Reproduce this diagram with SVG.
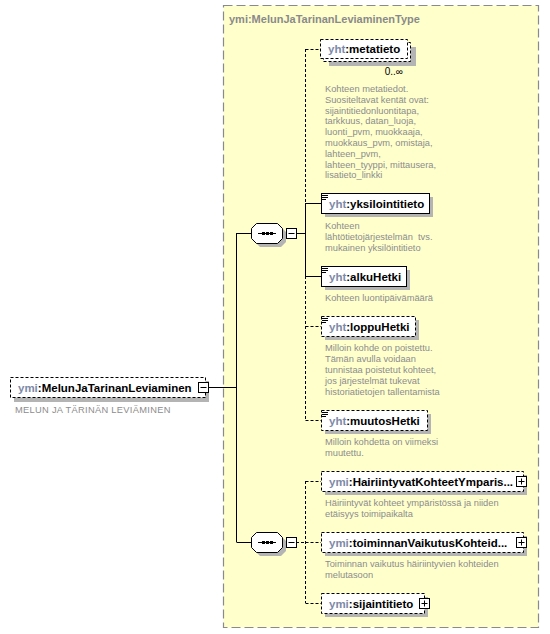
<svg xmlns="http://www.w3.org/2000/svg" width="550" height="634" viewBox="0 0 550 634">
<style>
.bg{fill:#ffffff}
.type{fill:#ffffcc;stroke:#8a8a8a;stroke-width:1.2;stroke-dasharray:9 4}
.sh{fill:#b4b4b4}
.box{fill:#fff;stroke:#000;stroke-width:1}
.opt{fill:#fff;stroke:#000;stroke-width:1;stroke-dasharray:3 2}
.ln{fill:none;stroke:#000;stroke-width:1}
.dl{fill:none;stroke:#000;stroke-width:1;stroke-dasharray:3 2}
.nm{font-family:"Liberation Sans",Arial,sans-serif;font-weight:bold;font-size:11.5px;fill:#000}
.px{fill:#7d8aa8}
.ds{font-family:"Liberation Sans",Arial,sans-serif;font-size:9.3px;fill:#8c8c8c}
.tt{font-family:"Liberation Sans",Arial,sans-serif;font-weight:bold;font-size:11px;fill:#8a8a8a}
.oc{font-family:"Liberation Sans",Arial,sans-serif;font-size:10px;fill:#000}
.ic{stroke:#000;stroke-width:1}
</style>
<defs>
<path id="oct" d="M256,0 H277 L282,5 V15 L277,20 H256 L251,15 V5 Z"/>
</defs>
<rect class="bg" x="0" y="0" width="550" height="634"/>
<rect class="type" x="223.5" y="5.5" width="315" height="622"/>
<text class="tt" x="229" y="23">ymi:MelunJaTarinanLeviaminenType</text>

<g id="connectors">
<path class="ln" d="M208,387.5 H236.5 M236.5,233 V542 M236.5,233.5 H251 M236.5,542.5 H251"/>
<path class="ln" d="M282,233.5 H286 M296,233.5 H305.5 M305.5,203 V276 M305.5,203.5 H321 M305.5,276.5 H321"/>
<path class="dl" d="M305.5,49 V203 M305.5,276 V420 M305.5,49.5 H320 M305.5,326.5 H321 M305.5,420.5 H321"/>
<path class="ln" d="M282,542.5 H286"/>
<path class="dl" d="M296,542.5 H305.5 M305.5,481 V603 M305.5,481.5 H321 M305.5,542.5 H321 M305.5,603.5 H321"/>
</g>

<g id="root">
<rect class="sh" x="14" y="381" width="195" height="21"/>
<rect class="opt" x="10.5" y="377.5" width="195" height="20"/>
<text class="nm" x="18" y="392"><tspan class="px">ymi</tspan>:MelunJaTarinanLeviaminen</text>
<rect class="box" x="198.5" y="382.5" width="10" height="10"/>
<path class="ic" d="M200.5,387.5 H206.5"/>
<text class="ds" x="15" y="413" letter-spacing="0.3">MELUN JA TÄRINÄN LEVIÄMINEN</text>
</g>

<g id="seq1">
<use href="#oct" x="4" y="227" class="sh"/>
<use href="#oct" x="0.5" y="223.5" fill="#fff" stroke="#000"/>
<path class="ln" d="M258,233.5 H276"/>
<rect x="262" y="232" width="3" height="3" fill="#000"/>
<rect x="266" y="232" width="3" height="3" fill="#000"/>
<rect x="270" y="232" width="3" height="3" fill="#000"/>
<rect class="box" x="286.5" y="228.5" width="10" height="10"/>
<path class="ic" d="M288.5,233.5 H294.5"/>
</g>

<g id="seq2">
<use href="#oct" x="4" y="536" class="sh"/>
<use href="#oct" x="0.5" y="532.5" fill="#fff" stroke="#000"/>
<path class="ln" d="M258,542.5 H276"/>
<rect x="262" y="541" width="3" height="3" fill="#000"/>
<rect x="266" y="541" width="3" height="3" fill="#000"/>
<rect x="270" y="541" width="3" height="3" fill="#000"/>
<rect class="box" x="286.5" y="537.5" width="10" height="10"/>
<path class="ic" d="M288.5,542.5 H294.5"/>
</g>

<g id="metatieto">
<rect class="sh" x="329" y="47" width="87" height="19"/>
<rect class="opt" x="323.5" y="42.5" width="87" height="19"/>
<rect class="opt" x="320.5" y="39.5" width="87" height="19"/>
<text class="nm" x="328" y="53"><tspan class="px">yht</tspan>:metatieto</text>
<text class="oc" x="403" y="75" text-anchor="end">0..∞</text>
<text class="ds" x="325"><tspan x="325" y="92">Kohteen metatiedot.</tspan><tspan x="325" y="102.8">Suositeltavat kentät ovat:</tspan><tspan x="325" y="113.6">sijaintitiedonluontitapa,</tspan><tspan x="325" y="124.4">tarkkuus, datan_luoja,</tspan><tspan x="325" y="135.2">luonti_pvm, muokkaaja,</tspan><tspan x="325" y="146">muokkaus_pvm, omistaja,</tspan><tspan x="325" y="156.8">lahteen_pvm,</tspan><tspan x="325" y="167.6">lahteen_tyyppi, mittausera,</tspan><tspan x="325" y="178.4">lisatieto_linkki</tspan></text>
</g>

<g id="yksilointitieto">
<rect class="sh" x="325" y="197" width="108" height="20"/>
<rect class="box" x="321.5" y="193.5" width="108" height="20"/>
<path class="ic" d="M322,195.5 H328 M322,197.5 H328 M322,199.5 H326"/>
<text class="nm" x="329" y="208"><tspan class="px">yht</tspan>:yksilointitieto</text>
<text class="ds"><tspan x="325" y="229">Kohteen</tspan><tspan x="325" y="240">lähtötietojärjestelmän&#160; tvs.</tspan><tspan x="325" y="251">mukainen yksilöintitieto</tspan></text>
</g>

<g id="alkuHetki">
<rect class="sh" x="325" y="270" width="85" height="20"/>
<rect class="box" x="321.5" y="266.5" width="85" height="20"/>
<path class="ic" d="M322,268.5 H328 M322,270.5 H328 M322,272.5 H326"/>
<text class="nm" x="329" y="281"><tspan class="px">yht</tspan>:alkuHetki</text>
<text class="ds" x="325" y="301">Kohteen luontipäivämäärä</text>
</g>

<g id="loppuHetki">
<rect class="sh" x="325" y="320" width="94" height="20"/>
<rect class="opt" x="321.5" y="316.5" width="94" height="20"/>
<path class="ic" d="M322,318.5 H328 M322,320.5 H328 M322,322.5 H326"/>
<text class="nm" x="329" y="331"><tspan class="px">yht</tspan>:loppuHetki</text>
<text class="ds"><tspan x="325" y="351">Milloin kohde on poistettu.</tspan><tspan x="325" y="362">Tämän avulla voidaan</tspan><tspan x="325" y="373">tunnistaa poistetut kohteet,</tspan><tspan x="325" y="384">jos järjestelmät tukevat</tspan><tspan x="325" y="395">historiatietojen tallentamista</tspan></text>
</g>

<g id="muutosHetki">
<rect class="sh" x="325" y="414" width="106" height="20"/>
<rect class="opt" x="321.5" y="410.5" width="106" height="20"/>
<path class="ic" d="M322,412.5 H328 M322,414.5 H328 M322,416.5 H326"/>
<text class="nm" x="329" y="425"><tspan class="px">yht</tspan>:muutosHetki</text>
<text class="ds"><tspan x="325" y="445">Milloin kohdetta on viimeksi</tspan><tspan x="325" y="456">muutettu.</tspan></text>
</g>

<g id="HairiintyvatKohteetYmparistossa">
<rect class="sh" x="325" y="475" width="202" height="20"/>
<rect class="opt" x="321.5" y="471.5" width="202" height="20"/>
<text class="nm" x="329" y="486"><tspan class="px">ymi</tspan>:HairiintyvatKohteetYmparis...</text>
<rect class="box" x="516.5" y="476.5" width="10" height="10"/>
<path class="ic" d="M518.5,481.5 H524.5 M521.5,478.5 V484.5"/>
<text class="ds"><tspan x="325" y="506">Häiriintyvät kohteet ympäristössä ja niiden</tspan><tspan x="325" y="517">etäisyys toimipaikalta</tspan></text>
</g>

<g id="toiminnanVaikutusKohteidenMelutasoon">
<rect class="sh" x="325" y="536" width="202" height="20"/>
<rect class="opt" x="321.5" y="532.5" width="202" height="20"/>
<text class="nm" x="329" y="547"><tspan class="px">ymi</tspan>:toiminnanVaikutusKohteid...</text>
<rect class="box" x="516.5" y="537.5" width="10" height="10"/>
<path class="ic" d="M518.5,542.5 H524.5 M521.5,539.5 V545.5"/>
<text class="ds"><tspan x="325" y="567">Toiminnan vaikutus häiriintyvien kohteiden</tspan><tspan x="325" y="578">melutasoon</tspan></text>
</g>

<g id="sijaintitieto">
<rect class="sh" x="325" y="597" width="103" height="20"/>
<rect class="opt" x="321.5" y="593.5" width="103" height="20"/>
<text class="nm" x="329" y="608"><tspan class="px">ymi</tspan>:sijaintitieto</text>
<rect class="box" x="419.5" y="598.5" width="10" height="10"/>
<path class="ic" d="M421.5,603.5 H427.5 M424.5,600.5 V606.5"/>
</g>
</svg>
